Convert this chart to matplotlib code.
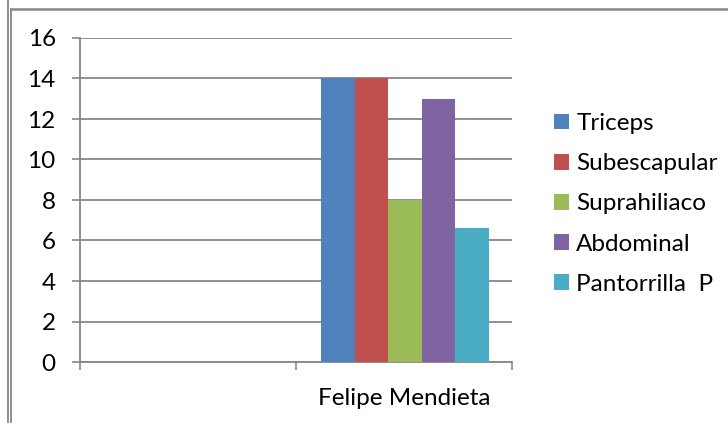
import matplotlib
matplotlib.use('Agg')
import matplotlib.pyplot as plt
from matplotlib.lines import Line2D
import numpy as np

plt.rcParams['font.family'] = ['Lato', 'DejaVu Sans']

# datos
categorias = ['', 'Felipe Mendieta']
series = ['Triceps', 'Subescapular', 'Suprahiliaco', 'Abdominal', 'Pantorrilla  P']
triceps = [np.nan, 14]
subescapular = [np.nan, 14]
suprahiliaco = [np.nan, 8]
abdominal = [np.nan, 13]
pantorrilla = [np.nan, 6.6]
valores = [triceps, subescapular, suprahiliaco, abdominal, pantorrilla]
colores = ['#4F81BD', '#C0504D', '#9BBB59', '#8064A2', '#4BACC6']
yticks = [0, 2, 4, 6, 8, 10, 12, 14, 16]

gris = '#878787'
fs = 17.5
W, H = 728, 423
fig = plt.figure(figsize=(W / 100, H / 100), dpi=100)
ax = fig.add_axes([80 / W, 1 - 362 / H, (512 - 80) / W, (362 - 38) / H])

x = np.arange(len(categorias)) + 0.5
ancho = 0.155
for i, (nombre, vals) in enumerate(zip(series, valores)):
    ax.bar(x + (i - 2) * ancho + 0.005, vals, width=ancho, color=colores[i], label=nombre, zorder=3)

ax.set_xlim(0, len(categorias))
ax.set_ylim(0, 16)
ax.set_yticks(yticks)
ax.yaxis.grid(True, color=gris, linewidth=1.3, zorder=0)
ax.set_xticks(np.arange(len(categorias) + 1))
ax.set_xticklabels([])
ax.set_xticks(x, minor=True)
ax.set_xticklabels(categorias, minor=True)
ax.tick_params(axis='x', which='minor', length=0, pad=18.5, labelsize=fs)
ax.tick_params(axis='x', which='major', length=5.5, width=1.2, color=gris, direction='out')
ax.tick_params(axis='y', length=5.5, width=1.2, color=gris, direction='out', pad=12, labelsize=fs)
for s in ['top', 'right']:
    ax.spines[s].set_visible(False)
for s in ['left', 'bottom']:
    ax.spines[s].set_color(gris)
    ax.spines[s].set_linewidth(1.3)

fig.legend(loc='upper left', bbox_to_anchor=(554 / W, 1 - 113 / H), frameon=False,
           fontsize=fs, handlelength=0.62, handleheight=0.62, handletextpad=0.3,
           labelspacing=0.79, borderpad=0, borderaxespad=0)

# marco
fig.add_artist(Line2D([8 / W, 8 / W], [0, 1], color=gris, lw=1.3))
fig.add_artist(Line2D([11 / W, 11 / W], [0, 1 - 9 / H], color=gris, lw=1.3))
fig.add_artist(Line2D([11 / W, 1], [1 - 9 / H, 1 - 9 / H], color=gris, lw=1.8))

fig.savefig('out.png', dpi=100)
